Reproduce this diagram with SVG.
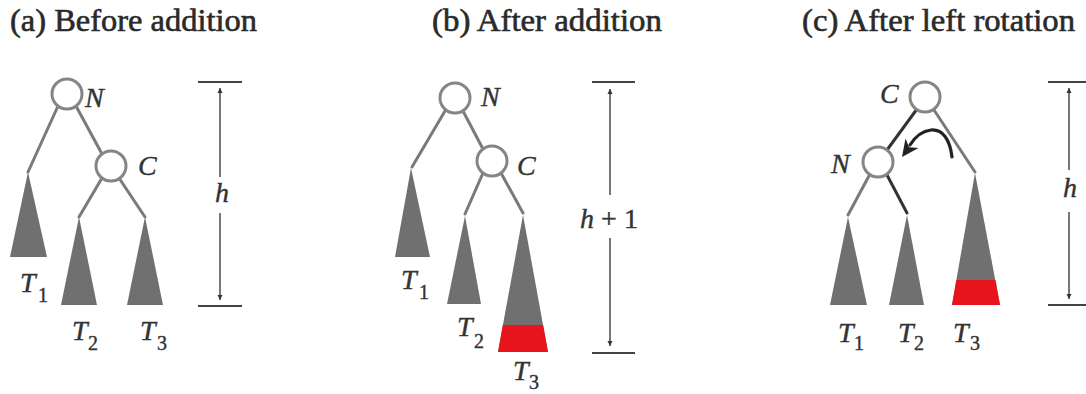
<svg xmlns="http://www.w3.org/2000/svg" width="1086" height="394" viewBox="0 0 1086 394">
<defs>
<style>
.title{font-family:"Liberation Serif","Times New Roman",serif;font-size:31px;fill:#2a2a2a;stroke:#2a2a2a;stroke-width:0.6px;}
.lbl{font-family:"Liberation Serif","Times New Roman",serif;font-style:italic;font-size:28px;fill:#333;stroke:#333;stroke-width:0.4px;}
.sub{font-style:normal;font-size:20px;}
.node{fill:#fff;stroke:#858585;stroke-width:3;}
.edge{stroke:#7a7a7a;stroke-width:3;fill:none;stroke-linecap:round;}
.dark{stroke:#333;}
.tri{fill:#707070;}
.red{fill:#e8141c;}
.dim{stroke:#555;stroke-width:1.6;fill:none;}
.tick{stroke:#444;stroke-width:1.8;}
</style>
<marker id="ah" viewBox="0 0 10 10" refX="10" refY="5" markerWidth="5" markerHeight="6" orient="auto-start-reverse" markerUnits="userSpaceOnUse">
<path d="M0,0 L10,5 L0,10 z" fill="#333"/>
</marker>
</defs>
<rect width="1086" height="394" fill="#fff"/>

<text class="title" x="10" y="31" textLength="247" lengthAdjust="spacingAndGlyphs">(a) Before addition</text>
<text class="title" x="432" y="31" textLength="230" lengthAdjust="spacingAndGlyphs">(b) After addition</text>
<text class="title" x="802" y="31" textLength="273" lengthAdjust="spacingAndGlyphs">(c) After left rotation</text>

<g id="connectors">
<!-- (a) -->
<line class="edge" x1="58" y1="106" x2="28" y2="172"/>
<line class="edge" x1="76" y1="106" x2="102" y2="154"/>
<line class="edge" x1="102" y1="178" x2="79" y2="217"/>
<line class="edge" x1="119" y1="178" x2="145" y2="217"/>
<!-- (b) -->
<line class="edge" x1="445" y1="111" x2="412" y2="167"/>
<line class="edge" x1="463" y1="111" x2="483" y2="149"/>
<line class="edge" x1="483" y1="173" x2="465" y2="214"/>
<line class="edge" x1="501" y1="173" x2="523" y2="213"/>
<!-- (c) -->
<line class="edge dark" x1="917" y1="109" x2="887" y2="150"/>
<line class="edge" x1="934" y1="110" x2="975" y2="172"/>
<line class="edge" x1="870" y1="174" x2="848" y2="215"/>
<line class="edge dark" x1="887" y1="175" x2="907" y2="213"/>
<!-- rotation arrow -->
<path d="M952 157 C950 140 943 129 931 130 C922 131 915 137 910 145" stroke="#222" stroke-width="3.2" fill="none" stroke-linecap="round"/>
<polygon points="902,157 905.5,138.5 909.1,147.3 918.5,147.9" fill="#222"/>
</g>

<g id="node-a-N">
<circle class="node" cx="67" cy="94" r="15"/>
<text class="lbl" x="85" y="107">N</text>
</g>
<g id="node-a-C">
<circle class="node" cx="111" cy="166" r="15"/>
<text class="lbl" x="138" y="175">C</text>
</g>
<g id="node-a-T1">
<polygon class="tri" points="28,172 10,257 47,257"/>
<text class="lbl" x="20" y="292">T<tspan class="sub" x="38" y="302">1</tspan></text>
</g>
<g id="node-a-T2">
<polygon class="tri" points="79,217 61,305 97,305"/>
<text class="lbl" x="72" y="340">T<tspan class="sub" x="88" y="350">2</tspan></text>
</g>
<g id="node-a-T3">
<polygon class="tri" points="145,217 127,305 163,305"/>
<text class="lbl" x="140" y="340">T<tspan class="sub" x="157" y="350">3</tspan></text>
</g>
<g id="dim-a">
<line class="tick" x1="198" y1="82" x2="242" y2="82"/>
<line class="tick" x1="198" y1="306" x2="242" y2="306"/>
<line class="dim" x1="220" y1="177" x2="220" y2="88" marker-end="url(#ah)"/>
<line class="dim" x1="220" y1="213" x2="220" y2="300" marker-end="url(#ah)"/>
<text class="lbl" x="222" y="202" text-anchor="middle">h</text>
</g>

<g id="node-b-N">
<circle class="node" cx="455" cy="98" r="15"/>
<text class="lbl" x="481" y="106">N</text>
</g>
<g id="node-b-C">
<circle class="node" cx="492" cy="161" r="15"/>
<text class="lbl" x="517" y="175">C</text>
</g>
<g id="node-b-T1">
<polygon class="tri" points="411,168 395,257 430,257"/>
<text class="lbl" x="401" y="289">T<tspan class="sub" x="419" y="299">1</tspan></text>
</g>
<g id="node-b-T2">
<polygon class="tri" points="465,216 447,304 481,304"/>
<text class="lbl" x="457" y="336">T<tspan class="sub" x="474" y="348">2</tspan></text>
</g>
<g id="node-b-T3">
<polygon class="tri" points="523,215 498,352 548,352"/>
<polygon class="red" points="502.9,325 543.1,325 548,352 498,352"/>
<text class="lbl" x="513" y="380">T<tspan class="sub" x="529" y="389">3</tspan></text>
</g>
<g id="dim-b">
<line class="tick" x1="592" y1="82" x2="635" y2="82"/>
<line class="tick" x1="592" y1="353" x2="635" y2="353"/>
<line class="dim" x1="610" y1="195" x2="610" y2="89" marker-end="url(#ah)"/>
<line class="dim" x1="610" y1="238" x2="610" y2="346" marker-end="url(#ah)"/>
<text class="lbl" x="609" y="228" text-anchor="middle" font-size="29">h<tspan font-style="normal"> + 1</tspan></text>
</g>

<g id="node-c-C">
<circle class="node" cx="925" cy="97" r="15"/>
<text class="lbl" x="880" y="103">C</text>
</g>
<g id="node-c-N">
<circle class="node" cx="878" cy="162" r="15"/>
<text class="lbl" x="831" y="173">N</text>
</g>
<g id="node-c-T1">
<polygon class="tri" points="848,217 830,305 867,305"/>
<text class="lbl" x="838" y="342">T<tspan class="sub" x="854" y="350">1</tspan></text>
</g>
<g id="node-c-T2">
<polygon class="tri" points="907,215 889,305 924,305"/>
<text class="lbl" x="898" y="342">T<tspan class="sub" x="914" y="350">2</tspan></text>
</g>
<g id="node-c-T3">
<polygon class="tri" points="975,173 952,305 1000,305"/>
<polygon class="red" points="956.4,280 995.5,280 1000,305 952,305"/>
<text class="lbl" x="953" y="342">T<tspan class="sub" x="970" y="350">3</tspan></text>
</g>
<g id="dim-c">
<line class="tick" x1="1048" y1="82" x2="1086" y2="82"/>
<line class="tick" x1="1048" y1="305" x2="1086" y2="305"/>
<line class="dim" x1="1069" y1="170" x2="1069" y2="88" marker-end="url(#ah)"/>
<line class="dim" x1="1069" y1="212" x2="1069" y2="299" marker-end="url(#ah)"/>
<text class="lbl" x="1070" y="197" text-anchor="middle">h</text>
</g>
</svg>
